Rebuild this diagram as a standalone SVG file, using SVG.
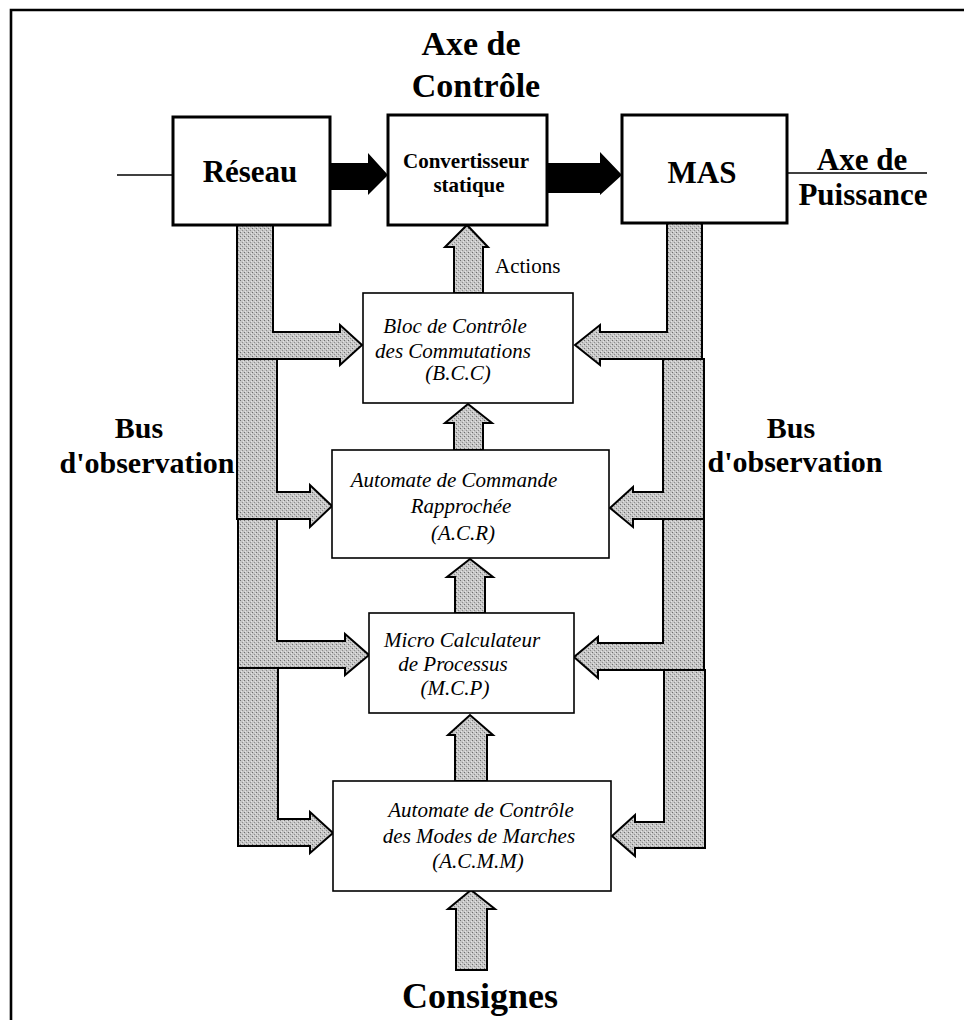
<svg xmlns="http://www.w3.org/2000/svg" width="964" height="1020" viewBox="0 0 964 1020">
<defs>
<pattern id="stip" width="4" height="4" patternUnits="userSpaceOnUse">
<rect width="4" height="4" fill="#c6c6c6"/>
<rect x="0" y="0" width="1" height="1" fill="#6e6e6e"/>
<rect x="2" y="2" width="1" height="1" fill="#8e8e8e"/>
<rect x="3" y="1" width="1" height="1" fill="#e4e4e4"/>
<rect x="1" y="3" width="1" height="1" fill="#e4e4e4"/>
</pattern>
<style>
.big{font-family:"Liberation Serif","Times New Roman",serif;font-weight:bold;fill:#000}
.it{font-family:"Liberation Serif","Times New Roman",serif;font-style:italic;font-size:21px;fill:#000;text-anchor:middle}
.box1{fill:#fff;stroke:#000;stroke-width:3}
.box2{fill:#fff;stroke:#000;stroke-width:1.6}
.gray{fill:url(#stip);stroke:#000;stroke-width:2;stroke-linejoin:miter}
.blk{fill:#000;stroke:none}
.ln{stroke:#000;fill:none}
</style>
</defs>
<rect width="964" height="1020" fill="#fff"/>
<!-- frame -->
<path class="ln" d="M11,1020 V10 H964" stroke-width="2.6"/>

<!-- titles -->
<g id="title-controle">
<text class="big" x="471" y="55" font-size="34" text-anchor="middle">Axe de</text>
<text class="big" x="476" y="97" font-size="34" text-anchor="middle">Contrôle</text>
</g>
<g id="title-puissance">
<text class="big" x="862" y="170" font-size="31" text-anchor="middle">Axe de</text>
<text class="big" x="863" y="205" font-size="31" text-anchor="middle">Puissance</text>
</g>
<g id="bus-left">
<text class="big" x="139" y="438" font-size="30" text-anchor="middle">Bus</text>
<text class="big" x="147" y="473" font-size="30" text-anchor="middle">d'observation</text>
</g>
<g id="bus-right">
<text class="big" x="791" y="438" font-size="30" text-anchor="middle">Bus</text>
<text class="big" x="795" y="472" font-size="30" text-anchor="middle">d'observation</text>
</g>
<g id="consignes">
<text class="big" x="480" y="1008" font-size="36" text-anchor="middle">Consignes</text>
</g>

<!-- connectors -->
<g id="connectors">
<line class="ln" x1="117" y1="175" x2="173" y2="175" stroke-width="1.5"/>
<line class="ln" x1="787" y1="173" x2="927" y2="173" stroke-width="1.5"/>
<polygon class="blk" points="330,163 368,163 368,153 388,175 368,195 368,190 330,190"/>
<polygon class="blk" points="547,163 600,163 600,152 622,175 600,195 600,193 547,193"/>

<!-- left bus segments -->
<polygon class="gray" points="237,225 273,225 273,332 340,332 340,325 362,345 340,365 340,359 237,359"/>
<polygon class="gray" points="237,359 277,359 277,492 310,492 310,485 332,506 310,527 310,519 237,519"/>
<polygon class="gray" points="238,519 277,519 277,641 345,641 345,634 369,655 345,675 345,668 238,668"/>
<polygon class="gray" points="238,668 278,668 278,819 310,819 310,812 333,833 310,853 310,846 238,846"/>

<!-- right bus segments -->
<polygon class="gray" points="667,223 702,223 702,359 600,359 600,365 575,345 600,325 600,332 667,332"/>
<polygon class="gray" points="663,359 704,359 704,519 633,519 633,527 610,508 633,487 633,492 663,492"/>
<polygon class="gray" points="663,519 704,519 704,670 598,670 598,678 574,657 598,637 598,643 663,643"/>
<polygon class="gray" points="664,670 705,670 705,848 635,848 635,856 612,836 635,815 635,822 664,822"/>

<!-- vertical up arrows -->
<polygon class="gray" points="454,293 454,247 445,247 467,225 488,247 483,247 483,293"/>
<polygon class="gray" points="454,450 454,423 445,423 468,404 492,423 483,423 483,450"/>
<polygon class="gray" points="455,613 455,577 447,577 470,559 493,577 485,577 485,613"/>
<polygon class="gray" points="455,781 455,735 448,735 470,715 493,735 487,735 487,781"/>
<polygon class="gray" points="456,970 456,909 448,909 471,890 495,909 487,909 487,970"/>
<text x="495" y="273" font-family="Liberation Serif, Times New Roman, serif" font-size="21" fill="#000">Actions</text>
</g>

<!-- nodes -->
<g id="reseau">
<rect class="box1" x="173" y="117" width="157" height="108"/>
<text class="big" x="250" y="182" font-size="31" text-anchor="middle">Réseau</text>
</g>
<g id="convertisseur">
<rect class="box1" x="388" y="115" width="159" height="110"/>
<text class="big" x="466" y="168" font-size="21" text-anchor="middle">Convertisseur</text>
<text class="big" x="469" y="192" font-size="21" text-anchor="middle">statique</text>
</g>
<g id="mas">
<rect class="box1" x="622" y="115" width="165" height="108"/>
<text class="big" x="702" y="183" font-size="31" text-anchor="middle">MAS</text>
</g>
<g id="bcc">
<rect class="box2" x="363" y="293" width="210" height="110"/>
<text class="it" x="455" y="333">Bloc de Contrôle</text>
<text class="it" x="453" y="358">des Commutations</text>
<text class="it" x="458" y="380">(B.C.C)</text>
</g>
<g id="acr">
<rect class="box2" x="332" y="450" width="277" height="108"/>
<text class="it" x="454" y="487">Automate de Commande</text>
<text class="it" x="461" y="513">Rapprochée</text>
<text class="it" x="463" y="540">(A.C.R)</text>
</g>
<g id="mcp">
<rect class="box2" x="369" y="613" width="205" height="100"/>
<text class="it" x="462" y="647">Micro Calculateur</text>
<text class="it" x="453" y="671">de Processus</text>
<text class="it" x="455" y="695">(M.C.P)</text>
</g>
<g id="acmm">
<rect class="box2" x="333" y="781" width="278" height="110"/>
<text class="it" x="481" y="817">Automate de Contrôle</text>
<text class="it" x="479" y="843">des Modes de Marches</text>
<text class="it" x="478" y="868">(A.C.M.M)</text>
</g>
</svg>
